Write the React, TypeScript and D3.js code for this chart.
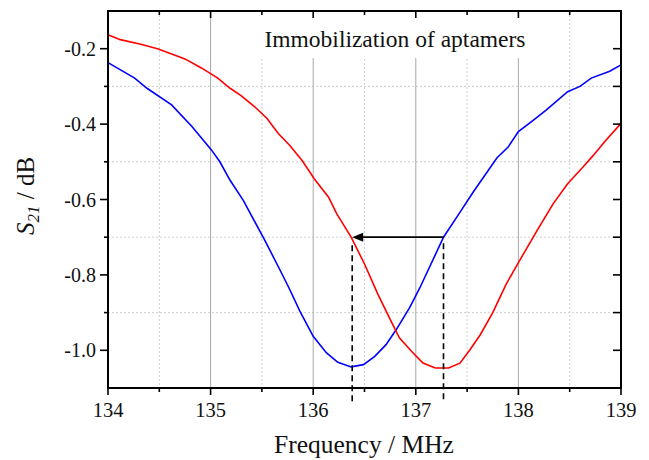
import React from "react";
import * as d3 from "d3";

const blueF = [134, 134.26, 134.38, 134.62, 134.82, 135.01, 135.09, 135.19, 135.32, 135.53, 135.68, 135.77, 135.87, 136.0, 136.13, 136.24, 136.37, 136.49, 136.6, 136.71, 136.81, 136.94, 137.04, 137.27, 137.43, 137.56, 137.79, 137.9, 138.0, 138.15, 138.27, 138.48, 138.6, 138.71, 138.89, 139.0];
const blueS = [-0.237, -0.278, -0.305, -0.349, -0.407, -0.469, -0.5, -0.549, -0.603, -0.709, -0.789, -0.838, -0.896, -0.963, -1.007, -1.032, -1.044, -1.038, -1.016, -0.985, -0.945, -0.887, -0.834, -0.7, -0.634, -0.58, -0.49, -0.461, -0.42, -0.389, -0.363, -0.314, -0.3, -0.278, -0.26, -0.243];

const redF = [134, 134.12, 134.33, 134.49, 134.64, 134.75, 134.91, 135.07, 135.19, 135.3, 135.43, 135.55, 135.66, 135.77, 135.89, 136.01, 136.15, 136.23, 136.37, 136.5, 136.63, 136.75, 136.84, 136.96, 137.07, 137.19, 137.32, 137.43, 137.53, 137.63, 137.75, 137.88, 138.01, 138.18, 138.34, 138.48, 138.63, 138.73, 138.84, 139.0];
const redS = [-0.163, -0.176, -0.189, -0.201, -0.216, -0.227, -0.251, -0.278, -0.305, -0.325, -0.354, -0.385, -0.425, -0.456, -0.496, -0.545, -0.594, -0.638, -0.7, -0.771, -0.851, -0.918, -0.967, -1.003, -1.034, -1.047, -1.047, -1.034, -0.998, -0.958, -0.9, -0.825, -0.763, -0.683, -0.611, -0.558, -0.514, -0.483, -0.447, -0.398];

const xMajor = [134, 135, 136, 137, 138, 139];
const xMinor = [134.5, 135.5, 136.5, 137.5, 138.5];
const yMajor = [-1.0, -0.8, -0.6, -0.4, -0.2];
const yMinor = [-1.1, -0.9, -0.7, -0.5, -0.3, -0.1];
const xLabels = ["134", "135", "136", "137", "138", "139"];
const yLabels = ["-1.0", "-0.8", "-0.6", "-0.4", "-0.2"];

const arrowFrom = 137.27;
const arrowTo = 136.38;
const arrowLevel = -0.7;
const title = "Immobilization of aptamers";

export default function App() {
  const W = 649, H = 460;
  const L = 108, R = 621, T = 11, B = 388;
  const x = d3.scaleLinear().domain([134, 139]).range([L, R]);
  const y = d3.scaleLinear().domain([-1.1, -0.1]).range([B, T]);
  const mk = (fs: number[], ss: number[]) =>
    d3.line<number>().x((d) => x(d)).y((_, i) => y(ss[i]))(fs) || "";
  const font = "'Liberation Serif', 'Times New Roman', serif";
  const ax = x(arrowTo), bx = x(arrowFrom), ay = y(arrowLevel);
  return (
    <svg width={W} height={H} style={{ position: "absolute", left: 0, top: 0, fontFamily: font }}>
      <rect width={W} height={H} fill="white" />
      {xMinor.map((v) => (
        <line key={"xm" + v} x1={x(v)} x2={x(v)} y1={T} y2={B} stroke="#cfcfcf" strokeDasharray="2,2" strokeWidth={1} />
      ))}
      {yMinor.slice(1, -1).map((v) => (
        <line key={"ym" + v} x1={L} x2={R} y1={y(v)} y2={y(v)} stroke="#cfcfcf" strokeDasharray="2,2" strokeWidth={1} />
      ))}
      {xMajor.slice(1, -1).map((v) => (
        <line key={"xg" + v} x1={x(v)} x2={x(v)} y1={T} y2={B} stroke="#a8a8a8" strokeWidth={1} />
      ))}
      <rect x={258} y={T + 1} width={272} height={46} fill="white" />
      <text x={395} y={47} fontSize={23.5} textAnchor="middle" fill="#111">{title}</text>
      <path d={mk(blueF, blueS)} fill="none" stroke="#0000ff" strokeWidth={1.6} />
      <path d={mk(redF, redS)} fill="none" stroke="#ff0000" strokeWidth={1.6} />
      <line x1={ax} x2={ax} y1={ay + 8} y2={y(-1.138)} stroke="black" strokeWidth={1.6} strokeDasharray="6,4" />
      <line x1={bx} x2={bx} y1={ay + 6} y2={y(-1.138)} stroke="black" strokeWidth={1.6} strokeDasharray="6,4" />
      <line x1={bx} x2={ax + 9} y1={ay} y2={ay} stroke="black" strokeWidth={1.8} />
      <path d={`M${ax},${ay} L${ax + 11},${ay - 4.5} L${ax + 11},${ay + 4.5} Z`} fill="black" />
      {xMajor.map((v) => (
        <g key={"xt" + v}>
          <line x1={x(v)} x2={x(v)} y1={B} y2={B + 7} stroke="black" strokeWidth={1.6} />
          <line x1={x(v)} x2={x(v)} y1={T} y2={T + 7} stroke="black" strokeWidth={1.6} />
        </g>
      ))}
      {xMinor.map((v) => (
        <g key={"xmt" + v}>
          <line x1={x(v)} x2={x(v)} y1={B} y2={B + 4} stroke="black" strokeWidth={1.6} />
          <line x1={x(v)} x2={x(v)} y1={T} y2={T + 4} stroke="black" strokeWidth={1.6} />
        </g>
      ))}
      {yMajor.map((v) => (
        <g key={"yt" + v}>
          <line x1={L - 8} x2={L} y1={y(v)} y2={y(v)} stroke="black" strokeWidth={1.6} />
          <line x1={R - 8} x2={R} y1={y(v)} y2={y(v)} stroke="black" strokeWidth={1.6} />
        </g>
      ))}
      {yMinor.slice(1, -1).map((v) => (
        <g key={"ymt" + v}>
          <line x1={L - 4} x2={L} y1={y(v)} y2={y(v)} stroke="black" strokeWidth={1.6} />
          <line x1={R - 8} x2={R} y1={y(v)} y2={y(v)} stroke="black" strokeWidth={1.6} />
        </g>
      ))}
      <rect x={L} y={T} width={R - L} height={B - T} fill="none" stroke="black" strokeWidth={2} />
      {xMajor.map((v, i) => (
        <text key={"xl" + v} x={x(v)} y={417} fontSize={20.5} textAnchor="middle" fill="#111">{xLabels[i]}</text>
      ))}
      {yMajor.map((v, i) => (
        <text key={"yl" + v} x={96} y={y(v) + 7} fontSize={20} textAnchor="end" fill="#111">{yLabels[i]}</text>
      ))}
      <text x={364} y={453} fontSize={25.5} textAnchor="middle" fill="#111">Frequency / MHz</text>
      <text transform="translate(34,196) rotate(-90)" fontSize={25} textAnchor="middle" fill="#111">
        <tspan fontStyle="italic">S</tspan>
        <tspan fontStyle="italic" fontSize={17} dy={5}>21</tspan>
        <tspan dy={-5}> / dB</tspan>
      </text>
    </svg>
  );
}
